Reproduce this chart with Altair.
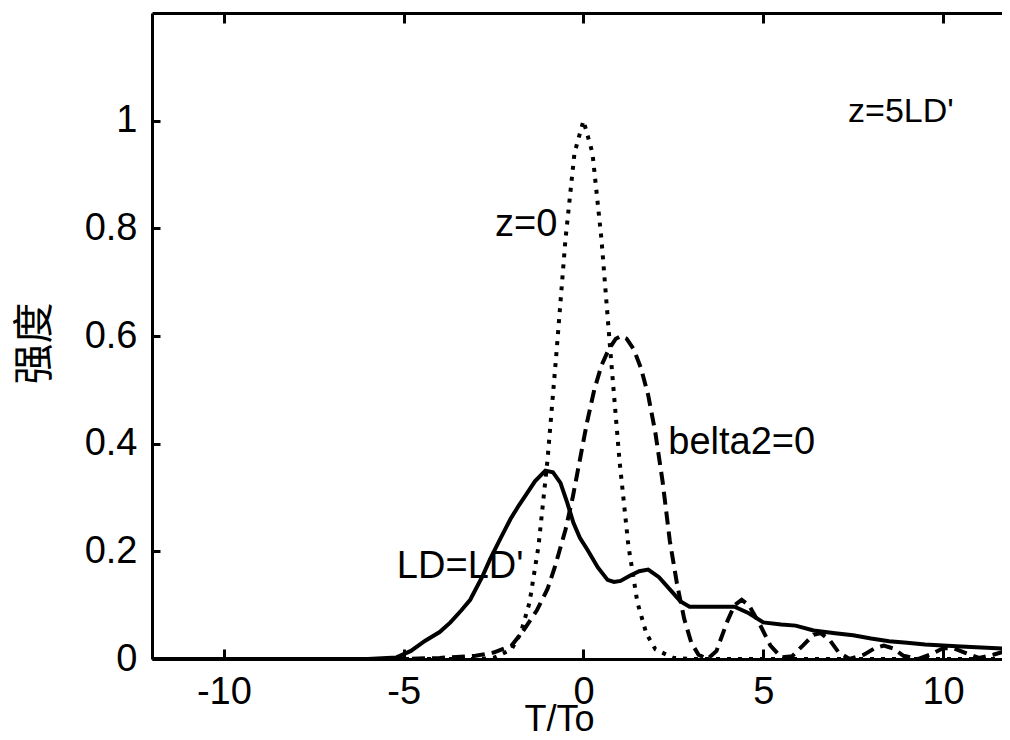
import altair as alt
import pandas as pd

# ---- data ----
# z=0 (dotted)
z0_t = [-12, -4, -3, -2.5, -2, -1.75, -1.5, -1.25, -1, -0.75, -0.5, -0.25, 0,
        0.25, 0.5, 0.75, 1, 1.25, 1.5, 1.75, 2, 2.5, 3, 4, 12]
z0_i = [0, 0, 0, 0.002, 0.018, 0.047, 0.105, 0.21, 0.37, 0.57, 0.78, 0.94, 1.0,
        0.94, 0.78, 0.57, 0.37, 0.21, 0.105, 0.047, 0.018, 0.002, 0, 0, 0]

# belta2=0 (dashed)
b2_t = [-12, -5, -4, -3, -2.5, -2.0, -1.7, -1.3, -1.0, -0.8, -0.5, -0.3, -0.1, 0.1, 0.3,
        0.5, 0.7, 0.9, 1.05, 1.2, 1.4, 1.6, 1.8, 2.0, 2.2, 2.4, 2.6, 2.8, 3.0, 3.2,
        3.45, 3.7, 4.0, 4.2, 4.4, 4.6, 4.9, 5.2, 5.5, 5.8, 6.1, 6.4, 6.6, 6.85, 7.1,
        7.4, 7.8, 8.1, 8.35, 8.6, 8.9, 9.3, 9.7, 10.0, 10.3, 10.6, 11.0, 11.4, 11.7, 12]
b2_i = [0, 0, 0.002, 0.006, 0.012, 0.025, 0.05, 0.09, 0.13, 0.17, 0.24, 0.3, 0.37, 0.44, 0.5,
        0.545, 0.575, 0.595, 0.6, 0.595, 0.575, 0.54, 0.49, 0.42, 0.33, 0.22, 0.14, 0.075, 0.03, 0.008,
        0.0, 0.015, 0.07, 0.1, 0.11, 0.1, 0.065, 0.025, 0.003, 0.005, 0.025, 0.045, 0.048, 0.035, 0.012,
        0.0, 0.008, 0.02, 0.025, 0.02, 0.006, 0.0, 0.01, 0.02, 0.02, 0.012, 0.002, 0.008, 0.014, 0.012]

# LD=LD' (solid)
ld_t = [-12, -6, -5.2, -4.8, -4.4, -4.0, -3.7, -3.4, -3.15, -2.8, -2.6, -2.3, -2.03, -1.8,
        -1.6, -1.35, -1.06, -0.85, -0.64, -0.45, -0.28, -0.1, 0.11, 0.4, 0.67, 0.85, 1.03,
        1.3, 1.55, 1.8, 2.1, 2.42, 2.7, 2.95, 3.5, 4.2, 4.6, 5.0, 5.5, 5.9, 6.4, 7.0, 7.5,
        8.0, 8.5, 9.0, 9.5, 10.5, 11.5, 12]
ld_i = [0, 0, 0.003, 0.015, 0.034, 0.05, 0.068, 0.09, 0.11, 0.155, 0.185, 0.225, 0.26, 0.285,
        0.305, 0.33, 0.35, 0.347, 0.327, 0.29, 0.253, 0.225, 0.203, 0.17, 0.147, 0.143, 0.145,
        0.155, 0.163, 0.166, 0.152, 0.128, 0.107, 0.097, 0.097, 0.097, 0.085, 0.068, 0.064, 0.062,
        0.053, 0.048, 0.044, 0.038, 0.033, 0.03, 0.027, 0.023, 0.02, 0.019]

x_ticks = [-10, -5, 0, 5, 10]
y_ticks = [0, 0.2, 0.4, 0.6, 0.8, 1, 1.2]   # 1.2 = top frame (unlabelled)

ann_big_labels = ["z=0", "belta2=0", "LD=LD'"]
ann_big_t = [-2.46, 2.36, -5.19]
ann_big_i = [0.785, 0.38, 0.151]
ann_small_labels = ["z=5LD'"]
ann_small_t = [7.36]
ann_small_i = [0.997]

FONT = "Liberation Sans"

# visible part of the axis: the reference frame runs just past the window edge
xscale = alt.Scale(domain=[-12, 11.64], nice=False, zero=False)
yscale = alt.Scale(domain=[0, 1.2], nice=False, zero=False)

x_axis = alt.Axis(
    orient="bottom", values=x_ticks, labelExpr="datum.value + ''",
    title="T/To", titleFont=FONT, titleFontSize=36, titleFontWeight="normal",
    titleColor="black", titleX=407, titleY=71, titleAlign="center",
    titleBaseline="alphabetic",
    labelFont=FONT, labelFontSize=38, labelColor="black", labelPadding=14,
    ticks=False, tickSize=0, domain=True, domainColor="black", domainWidth=3,
    grid=True, gridColor="black", gridWidth=3, gridOpacity=1,
    gridDash=[10, 626, 10, 3000], gridCap="butt",
)
y_axis = alt.Axis(
    orient="left", values=y_ticks,
    labelExpr="datum.value > 1.1 ? '' : datum.value + ''",
    title="强度", titleFont="Noto Sans CJK SC", titleFontSize=41,
    titleFontWeight="normal", titleColor="black", titleX=-117, titleY=330,
    titleAlign="center", titleBaseline="middle", titleAngle=270,
    labelFont=FONT, labelFontSize=38, labelColor="black", labelPadding=15,
    ticks=False, tickSize=0, domain=True, domainColor="black", domainWidth=3,
    grid=True, gridColor="black", gridWidth=3, gridOpacity=1,
    gridDash={"condition": {"test": "datum.value > 1.1", "value": [2000, 1]},
              "value": [8, 3000]},
    gridCap="butt",
)

enc_x = alt.X("T:Q", scale=xscale, axis=x_axis)
enc_y = alt.Y("I:Q", scale=yscale, axis=y_axis)

solid = alt.Chart(pd.DataFrame({"T": ld_t, "I": ld_i})).mark_line(
    color="black", strokeWidth=4, clip=True
).encode(x=enc_x, y=enc_y)

dashed = alt.Chart(pd.DataFrame({"T": b2_t, "I": b2_i})).mark_line(
    color="black", strokeWidth=4, strokeDash=[13, 7], strokeCap="butt", clip=True
).encode(x=enc_x, y=enc_y)

dotted = alt.Chart(pd.DataFrame({"T": z0_t, "I": z0_i})).mark_line(
    color="black", strokeWidth=4, strokeDash=[4, 7], strokeCap="butt", clip=True
).encode(x=enc_x, y=enc_y)

txt_big = alt.Chart(pd.DataFrame({"T": ann_big_t, "I": ann_big_i, "label": ann_big_labels})).mark_text(
    font=FONT, fontSize=38, color="black", align="left", baseline="alphabetic"
).encode(x=enc_x, y=enc_y, text="label:N")

txt_small = alt.Chart(pd.DataFrame({"T": ann_small_t, "I": ann_small_i, "label": ann_small_labels})).mark_text(
    font=FONT, fontSize=34, color="black", align="left", baseline="alphabetic"
).encode(x=enc_x, y=enc_y, text="label:N")

chart = alt.layer(solid, dashed, dotted, txt_big, txt_small).properties(
    width=850, height=646,
    padding={"left": 144, "top": 5, "right": 0, "bottom": 72},
    autosize=alt.AutoSizeParams(type="none"),
    background="white",
).configure_view(stroke=None)

chart.save("out.html", embed_options={"renderer": "svg", "actions": False})
